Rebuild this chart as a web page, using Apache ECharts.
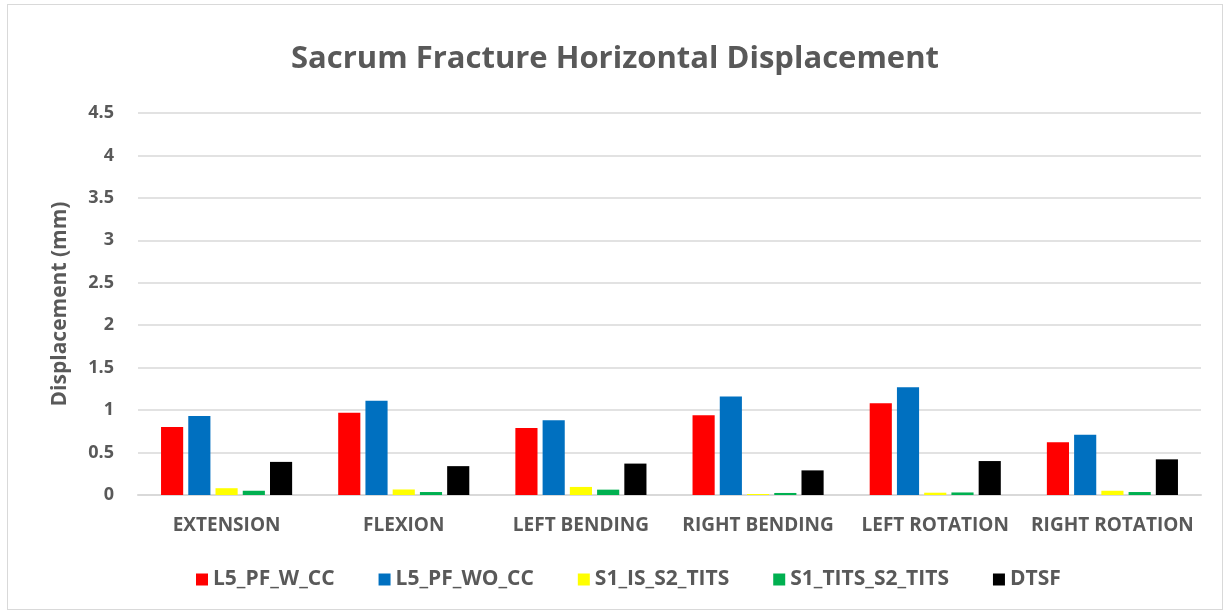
<!DOCTYPE html>
<html>
<head>
<meta charset="utf-8">
<script src="https://cdn.jsdelivr.net/npm/echarts@6/dist/echarts.min.js"></script>
<style>
	html, body { margin: 0; padding: 0; background: #fff; }
	#chart { position: absolute; left: 7px; top: 4px; width: 1214px; height: 604px; border: 1px solid #d9d9d9; }
</style>
</head>
<body>
<div id="chart"></div>
<script>
	var categories = ['EXTENSION', 'FLEXION', 'LEFT BENDING', 'RIGHT BENDING', 'LEFT ROTATION', 'RIGHT ROTATION'];
	var seriesNames = ['L5_PF_W_CC', 'L5_PF_WO_CC', 'S1_IS_S2_TITS', 'S1_TITS_S2_TITS', 'DTSF'];
	var l5WithCC = [0.80, 0.97, 0.79, 0.94, 1.08, 0.62];
	var l5WithoutCC = [0.93, 1.11, 0.88, 1.16, 1.27, 0.71];
	var s1IsS2Tits = [0.08, 0.065, 0.095, 0.012, 0.027, 0.05];
	var s1TitsS2Tits = [0.05, 0.035, 0.063, 0.024, 0.03, 0.035];
	var dtsf = [0.39, 0.34, 0.37, 0.29, 0.40, 0.42];
	var colors = ['#ff0000', '#0070c0', '#ffff00', '#00b050', '#000000'];

	var allValues = [l5WithCC, l5WithoutCC, s1IsS2Tits, s1TitsS2Tits, dtsf];
	var textColor = '#595959';
	var font = 'Open Sans';

	var series = [];
	for (var i = 0; i < seriesNames.length; i++) {
		series.push({
			name: seriesNames[i],
			type: 'bar',
			data: allValues[i],
			barGap: '23%',
			barCategoryGap: '26%',
			itemStyle: { color: colors[i] }
		});
	}

	var myChart = echarts.init(document.getElementById('chart'));
	var option = {
		color: colors,
		animation: false,
		title: {
			text: 'Sacrum Fracture Horizontal Displacement',
			left: 'center',
			top: 34,
			textStyle: { fontFamily: font, fontSize: 31, fontWeight: 'bold', color: textColor }
		},
		grid: { left: 130, right: 21, top: 108, bottom: 114 },
		legend: {
			data: seriesNames,
			bottom: 14,
			left: 183,
			icon: 'rect',
			itemWidth: 12,
			itemHeight: 12,
			itemGap: 44,
			textStyle: { fontFamily: font, fontSize: 21, fontWeight: 'bold', color: textColor }
		},
		xAxis: {
			type: 'category',
			data: categories,
			axisLine: { lineStyle: { color: '#d9d9d9', width: 2 } },
			axisTick: { show: false },
			axisLabel: { interval: 0, fontFamily: font, fontSize: 19, fontWeight: 'bold', color: textColor, margin: 21 }
		},
		yAxis: {
			type: 'value',
			min: 0,
			max: 4.5,
			interval: 0.5,
			name: 'Displacement (mm)',
			nameLocation: 'middle',
			nameGap: 67,
			nameTextStyle: { fontFamily: font, fontSize: 21, fontWeight: 'bold', color: textColor },
			axisLine: { show: false },
			axisTick: { show: false },
			splitLine: { lineStyle: { color: '#d9d9d9', width: 1.5 } },
			axisLabel: { fontFamily: font, fontSize: 18, fontWeight: 'bold', color: textColor, margin: 24 }
		},
		series: series
	};
	myChart.setOption(option, true);
</script>
</body>
</html>
